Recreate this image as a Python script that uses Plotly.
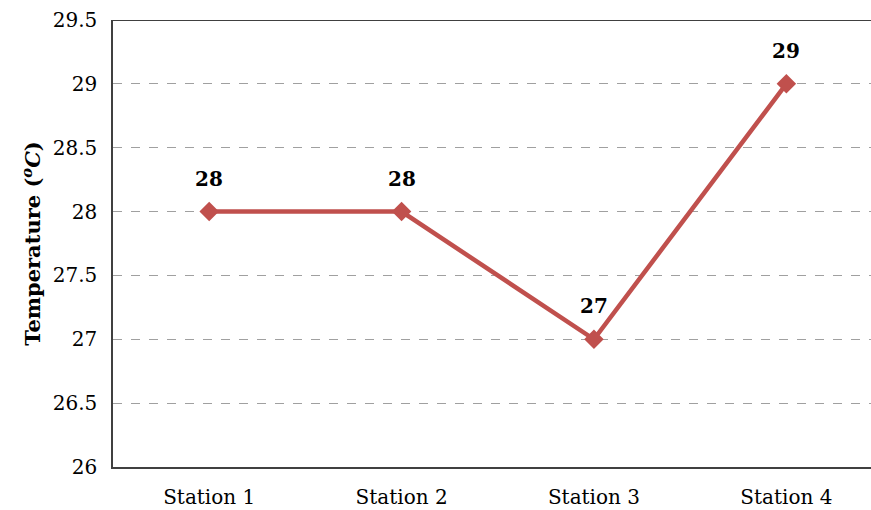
import plotly.graph_objects as go

stations = ["Station 1", "Station 2", "Station 3", "Station 4"]
temps = [28, 28, 27, 29]
y_ticks = [26, 26.5, 27, 27.5, 28, 28.5, 29, 29.5]
y_tick_labels = ["26", "26.5", "27", "27.5", "28", "28.5", "29", "29.5"]

FONT = "DejaVu Serif"

fig = go.Figure()
fig.add_trace(go.Scatter(
    x=stations, y=temps, mode="lines+markers",
    line=dict(color="#C0504D", width=4.5),
    marker=dict(symbol="diamond", size=15, color="#C0504D"),
    cliponaxis=False, showlegend=False,
))

for s, t in zip(stations, temps):
    fig.add_annotation(x=s, y=t, text=f"<b>{t}</b>", showarrow=False,
                       yshift=33, font=dict(family=FONT, size=20, color="#000000"))

fig.add_shape(type="line", xref="paper", yref="y", x0=0, x1=1, y0=29.5, y1=29.5,
              line=dict(color="#000000", width=1.5))

fig.update_layout(
    width=871, height=510,
    margin=dict(l=113, r=0, t=20, b=43),
    paper_bgcolor="white", plot_bgcolor="white",
    font=dict(family=FONT, size=19, color="#000000"),
    xaxis=dict(
        range=[-0.5, 3.44], showline=True, linecolor="#404040", linewidth=1.5,
        showgrid=False, ticks="", tickfont=dict(family=FONT, size=20),
        ticklabelstandoff=11, automargin=False,
    ),
    yaxis=dict(
        range=[26, 29.5], tickvals=y_ticks, ticktext=y_tick_labels,
        showline=True, linecolor="#404040", linewidth=1.5,
        showgrid=True, gridcolor="#A0A0A0", griddash="dash", gridwidth=1,
        zeroline=False, ticks="", tickfont=dict(family=FONT, size=20),
        ticklabelstandoff=10, automargin=False,
        title=dict(text="<b>Temperature (<i><sup>o</sup>C</i>)</b>",
                   font=dict(family=FONT, size=21), standoff=6),
    ),
)

fig.write_html("out.html")
